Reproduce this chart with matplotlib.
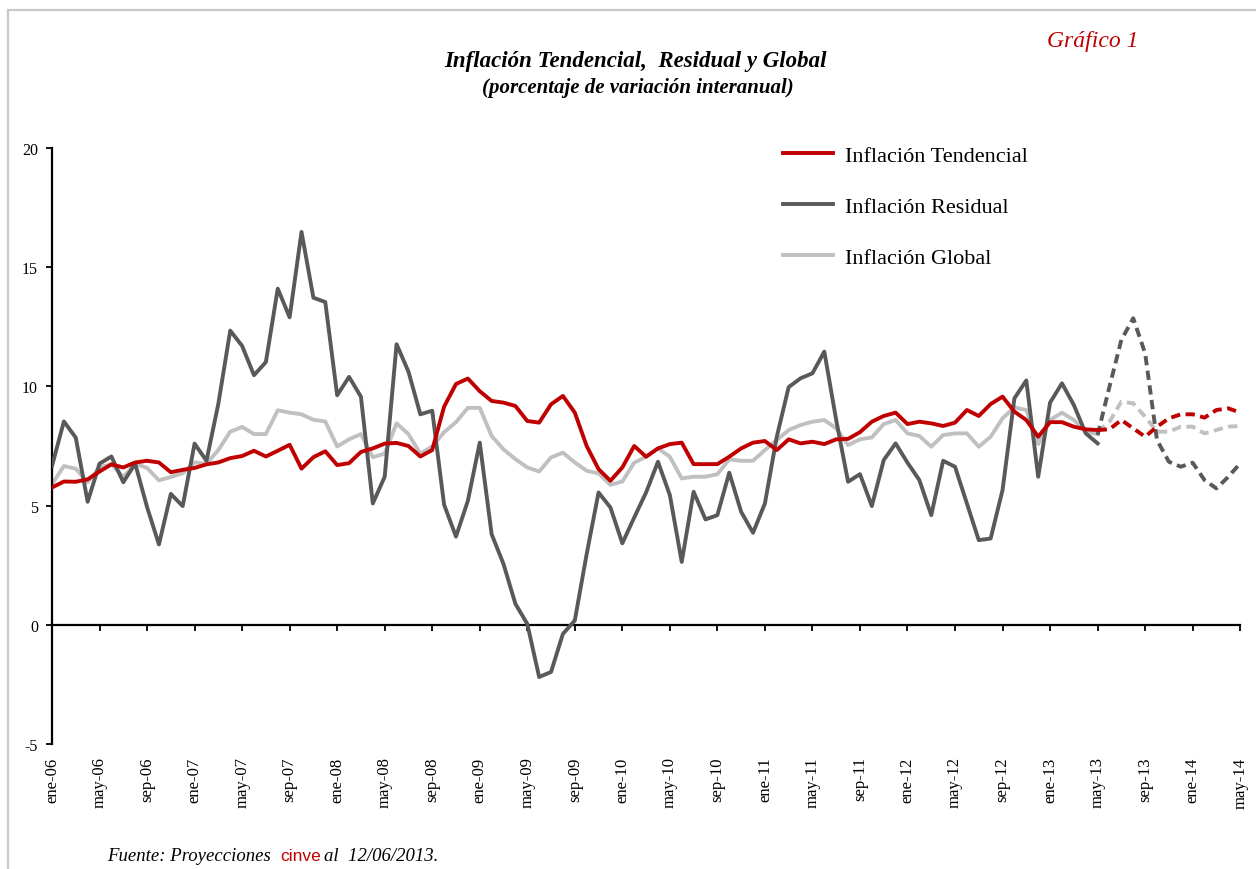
import numpy as np
import matplotlib
matplotlib.use("Agg")
import matplotlib.pyplot as plt
from matplotlib.patches import Rectangle

#1. => DATA (monthly, ene-06 .. may-13 observed, may-13 .. may-14 projection)
tendencial = [5.76, 6.01, 6.0, 6.1, 6.43, 6.73, 6.6, 6.81, 6.88, 6.81, 6.4, 6.5,
              6.58, 6.73, 6.81, 6.99, 7.08, 7.3, 7.06, 7.3, 7.55, 6.55, 7.03, 7.28,
              6.7, 6.78, 7.25, 7.4, 7.6, 7.63, 7.5, 7.06, 7.33, 9.15, 10.1, 10.33,
              9.8, 9.39, 9.32, 9.18, 8.55, 8.48, 9.25, 9.6, 8.9, 7.5, 6.53, 6.04,
              6.6, 7.5, 7.05, 7.4, 7.58, 7.64, 6.74, 6.74, 6.74, 7.05, 7.4, 7.64,
              7.71, 7.33, 7.78, 7.61, 7.68, 7.58, 7.78, 7.8, 8.08, 8.52, 8.76, 8.9,
              8.42, 8.52, 8.45, 8.34, 8.48, 9.01, 8.76, 9.26, 9.57, 8.94, 8.59, 7.89,
              8.5, 8.5, 8.31, 8.2, 8.17]
residual = [6.66, 8.53, 7.85, 5.16, 6.76, 7.06, 5.98, 6.76, 4.94, 3.37, 5.49, 4.98,
            7.6, 6.88, 9.27, 12.34, 11.7, 10.47, 11.02, 14.1, 12.9, 16.48, 13.72, 13.54,
            9.63, 10.4, 9.57, 5.09, 6.21, 11.77, 10.62, 8.83, 8.98, 5.04, 3.7, 5.2,
            7.64, 3.8, 2.55, 0.88, 0.04, -2.19, -1.98, -0.38, 0.18, 2.97, 5.55, 4.92,
            3.42, 4.5, 5.55, 6.84, 5.44, 2.64, 5.58, 4.42, 4.6, 6.38, 4.74, 3.86,
            5.09, 7.89, 9.97, 10.34, 10.55, 11.46, 8.59, 6.0, 6.32, 4.98, 6.91, 7.61,
            6.8, 6.07, 4.6, 6.88, 6.63, 5.09, 3.55, 3.62, 5.65, 9.5, 10.25, 6.21,
            9.32, 10.13, 9.22, 8.03, 7.61]
global_inf = [5.9, 6.66, 6.55, 5.98, 6.61, 6.73, 6.2, 6.76, 6.58, 6.06, 6.2, 6.36,
              6.81, 6.76, 7.33, 8.1, 8.3, 8.0, 8.0, 9.0, 8.9, 8.83, 8.6, 8.53,
              7.48, 7.78, 8.0, 7.03, 7.18, 8.45, 8.0, 7.18, 7.48, 8.08, 8.5, 9.1,
              9.1, 7.92, 7.36, 6.95, 6.6, 6.43, 7.02, 7.22, 6.81, 6.46, 6.35, 5.87,
              6.01, 6.8, 7.05, 7.4, 7.05, 6.14, 6.21, 6.21, 6.32, 6.94, 6.88, 6.88,
              7.33, 7.75, 8.17, 8.38, 8.52, 8.59, 8.24, 7.54, 7.78, 7.86, 8.42, 8.59,
              8.03, 7.92, 7.47, 7.96, 8.03, 8.03, 7.47, 7.89, 8.66, 9.12, 9.01, 7.58,
              8.59, 8.9, 8.59, 8.1, 8.0]

# projections from may-13
tendencial_proj = [8.17, 8.2, 8.59, 8.24, 7.89, 8.31, 8.66, 8.83, 8.83, 8.69, 9.01, 9.08, 8.9]
residual_proj = [7.96, 9.99, 11.95, 12.86, 11.39, 7.75, 6.84, 6.63, 6.8, 6.07, 5.72, 6.21, 6.77]
global_proj = [8.1, 8.52, 9.36, 9.29, 8.73, 8.1, 8.1, 8.31, 8.31, 8.03, 8.17, 8.31, 8.34]

meses = ["ene", "feb", "mar", "abr", "may", "jun", "jul", "ago", "sep", "oct", "nov", "dic"]
labels = [f"{meses[m % 12]}-{6 + m // 12:02d}" for m in range(101)]

#2. => PLOT
plt.rcParams["font.family"] = ["Liberation Serif", "DejaVu Serif"]
plt.rcParams["axes.unicode_minus"] = False
red = "#C00000"
dark = "#595959"
light = "#C0C0C0"

fig = plt.figure(figsize=(12.56, 8.7), dpi=100)
ax = fig.add_axes([0.0414, 0.1437, 0.946, 0.685])

x = np.arange(len(tendencial))
xp = np.arange(len(tendencial) - 1, len(tendencial) - 1 + len(tendencial_proj))

ax.plot(x, global_inf, color=light, linewidth=2.8, label="Inflación Global", zorder=2)
ax.plot(x, residual, color=dark, linewidth=2.8, label="Inflación Residual", zorder=3)
ax.plot(x, tendencial, color=red, linewidth=2.8, label="Inflación Tendencial", zorder=4)
ax.plot(xp, global_proj, color=light, linewidth=2.8, dashes=(2.4, 1.4), zorder=2)
ax.plot(xp, residual_proj, color=dark, linewidth=2.8, dashes=(2.4, 1.4), zorder=3)
ax.plot(xp, tendencial_proj, color=red, linewidth=2.8, dashes=(2.4, 1.4), zorder=4)

ax.set_xlim(0, 100)
ax.set_ylim(-5, 20)
ax.set_yticks([-5, 0, 5, 10, 15, 20])
ax.tick_params(axis="y", length=4.5, width=1.3, labelsize=11.5, pad=5.5)

ticks = np.arange(0, 101, 4)
ax.set_xticks(ticks)
ax.set_xticklabels([labels[t] for t in ticks], rotation=90, fontsize=12)
ax.tick_params(axis="x", length=0, pad=9)

for s in ["top", "right", "bottom"]:
    ax.spines[s].set_visible(False)
ax.spines["left"].set_linewidth(1.6)

# zero line with the month ticks
sec = ax.secondary_xaxis(0.2)
sec.set_xticks(ticks)
sec.set_xticklabels([])
sec.tick_params(length=4.5, width=1.3, direction="out")
sec.spines["bottom"].set_linewidth(1.6)

# legend order as in the reference
h, l = ax.get_legend_handles_labels()
ax.legend(h[::-1], l[::-1], loc="upper left", bbox_to_anchor=(0.5985, 1.0386),
          frameon=False, fontsize=16, labelspacing=1.37, handlelength=2.25,
          handletextpad=0.54)

#3. => TEXTS
fig.text(0.506, 1 - 62 / 870, "Inflación Tendencial,  Residual y Global", ha="center",
         va="center", fontsize=16.5, fontweight="bold", fontstyle="italic")
fig.text(0.508, 1 - 88 / 870, "(porcentaje de variación interanual)", ha="center",
         va="center", fontsize=15, fontweight="bold", fontstyle="italic")
fig.text(1047 / 1256, 1 - 42 / 870, "Gráfico 1", ha="left", va="center",
         fontsize=17, fontstyle="italic", color=red)

fy = 1 - 857 / 870
fig.text(107 / 1256, fy, "Fuente: Proyecciones", ha="left", va="center",
         fontsize=13.5, fontstyle="italic")
fig.text(280 / 1256, fy, "cinve", ha="left", va="center", fontsize=12.5,
         color=red, family="Liberation Sans")
fig.text(324 / 1256, fy, "al  12/06/2013.", ha="left", va="center",
         fontsize=13.5, fontstyle="italic")

# outer frame
fig.add_artist(Rectangle((8 / 1256, -0.05), 1.0, 1.05 - 11 / 870, transform=fig.transFigure,
                         fill=False, edgecolor="#C8C8C8", linewidth=1.6))

fig.savefig("out.png", dpi=100)
